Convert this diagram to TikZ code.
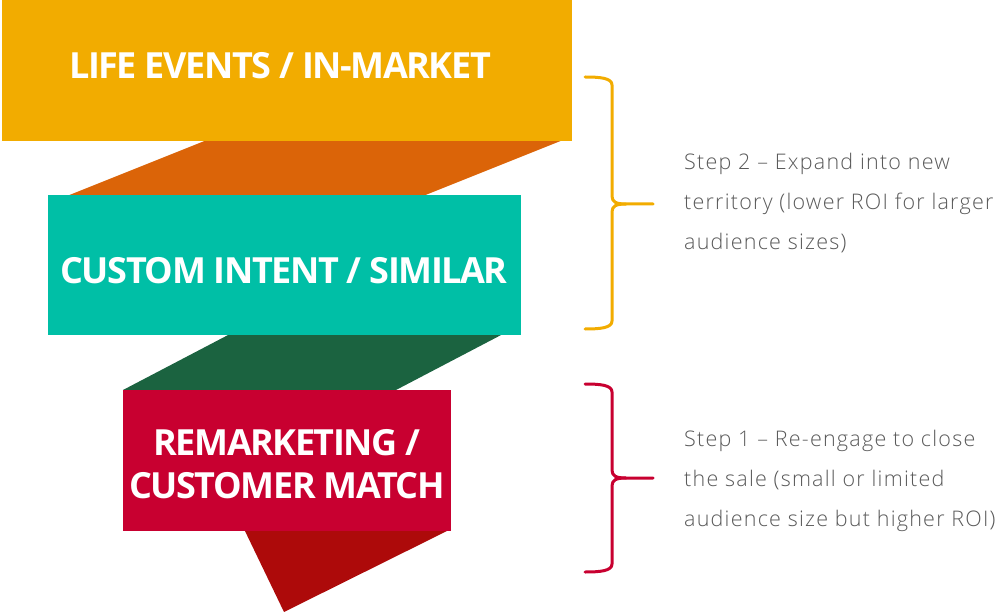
\documentclass[tikz,border=0pt]{standalone}
\usepackage{fontspec}
\setmainfont{Open Sans}
\newfontfamily\labelfont{Open Sans}[UprightFont=* Bold, LetterSpace=-4]
\newfontfamily\lightfont{Open Sans Light}[LetterSpace=5.7]
\definecolor{cOrange}{HTML}{F2AC00}
\definecolor{cDkOrange}{HTML}{DB6408}
\definecolor{cTeal}{HTML}{00BFA6}
\definecolor{cDkGreen}{HTML}{1B6340}
\definecolor{cRed}{HTML}{C80030}
\definecolor{cDkRed}{HTML}{AD0A0A}
\definecolor{cGray}{HTML}{5A5A5A}
\tikzset{
  tier/.style={inner sep=0pt, outer sep=0pt, draw=none},
  tierlabel/.style={inner sep=0pt, anchor=base, text=white, font=\labelfont\fontsize{36}{42}\selectfont},
  steptext/.style={inner sep=0pt, anchor=base west, text=cGray, font=\lightfont\fontsize{21.5}{40}\selectfont},
  bracepath/.style={line width=3pt, line cap=round, line join=round}
}
\begin{document}
\begin{tikzpicture}[x=1pt,y=-1pt]
\useasboundingbox (0,0) rectangle (1000,612);
% connecting bands
\fill[cDkOrange] (207,140) -- (563,140) -- (423,196) -- (67,196) -- cycle;
\fill[cDkGreen] (230,334) -- (503,334) -- (396,390) -- (123,390) -- cycle;
\fill[cDkRed] (244,529) -- (451,529) -- (284,612) -- cycle;
% tiers
\node[tier, fill=cOrange, minimum width=570pt, minimum height=141pt] (life) at (287,70.5) {};
\node[tier, fill=cTeal, minimum width=473pt, minimum height=140pt] (custom) at (284.5,265) {};
\node[tier, fill=cRed, minimum width=328pt, minimum height=141pt] (remark) at (287,460) {};
% tier labels
\node[tierlabel] (lifeT) at (280,79) {LIFE EVENTS / IN-MARKET};
\node[tierlabel] (customT) at (284,283) {CUSTOM INTENT / SIMILAR};
\node[tierlabel] (remarkT1) at (287,455) {REMARKETING /};
\node[tierlabel] (remarkT2) at (287,498) {CUSTOMER MATCH};
% braces
\coordinate (b2tip) at (653,204);
\coordinate (b1tip) at (653,478);
\draw[bracepath, cOrange] (585,77) .. controls (600,77) and (612,78) .. (612,85) -- (612,196)
  .. controls (612,202) and (616,204) .. (626,204) -- (b2tip);
\draw[bracepath, cOrange] (585,329) .. controls (600,329) and (612,328) .. (612,321) -- (612,212)
  .. controls (612,206) and (616,204) .. (626,204);
\draw[bracepath, cRed] (585,384) .. controls (600,384) and (612,385) .. (612,392) -- (612,470)
  .. controls (612,476) and (616,478) .. (626,478) -- (b1tip);
\draw[bracepath, cRed] (585,572) .. controls (600,572) and (612,571) .. (612,564) -- (612,486)
  .. controls (612,480) and (616,478) .. (626,478);
% step texts
\node[steptext] (s2a) at (684,170) {Step 2 – Expand into new};
\node[steptext] (s2b) at (684,210) {territory (lower ROI for larger};
\node[steptext] (s2c) at (684,250) {audience sizes)};
\node[steptext] (s1a) at (684,446) {Step 1 – Re-engage to close};
\node[steptext] (s1b) at (684,486) {the sale (small or limited};
\node[steptext] (s1c) at (684,526) {audience size but higher ROI)};
\end{tikzpicture}
\end{document}
